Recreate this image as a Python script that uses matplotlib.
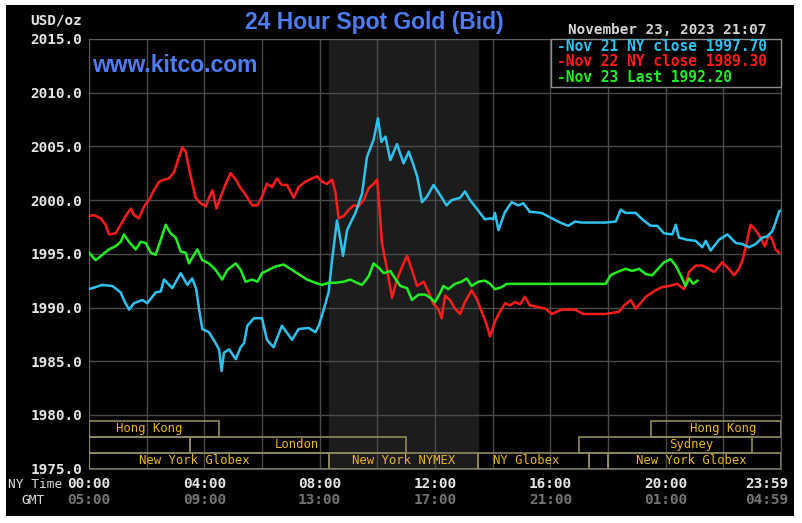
import numpy as np
import matplotlib
matplotlib.use("Agg")
import matplotlib.pyplot as plt
from matplotlib.patches import Rectangle

# ---------------------------------------------------------------------------
# Data (hours after 00:00 NY time, USD/oz)

cyan_h = [0.00, 0.46, 0.81, 1.10, 1.21, 1.39, 1.56, 1.85, 2.02, 2.31, 2.49, 2.60, 2.89, 3.18, 3.41,
          3.58, 3.72, 3.82, 3.93, 4.16, 4.39, 4.51, 4.60, 4.68, 4.86, 5.09, 5.26, 5.38, 5.49, 5.72,
          6.00, 6.17, 6.40, 6.69, 7.04, 7.27, 7.62, 7.85, 7.97, 8.14, 8.31, 8.43, 8.60, 8.72, 8.81,
          8.95, 9.24, 9.47, 9.64, 9.87, 10.02, 10.14, 10.28, 10.45, 10.68, 10.91, 11.09, 11.26, 11.38,
          11.55, 11.72, 11.95,
          12.17, 12.40, 12.58, 12.87, 13.04, 13.21, 13.39, 13.56, 13.73, 13.91, 14.02, 14.08, 14.20,
          14.43, 14.66, 14.89, 15.06, 15.29, 15.70, 16.05, 16.34, 16.62, 16.86, 17.09,
          17.92, 18.27, 18.44, 18.61, 18.96, 19.19, 19.48, 19.71, 19.94, 20.23, 20.35, 20.46, 20.75,
          21.04, 21.27, 21.39, 21.56, 21.85, 22.14, 22.43, 22.66, 22.89, 23.12, 23.35, 23.52, 23.70,
          23.81, 23.93, 23.98]
cyan_v = [1991.7, 1992.1, 1992.0, 1991.4, 1990.7, 1989.8, 1990.4, 1990.7, 1990.4, 1991.4, 1991.5,
          1992.6, 1991.8, 1993.2, 1992.1, 1992.7, 1991.7, 1989.8, 1988.0, 1987.7, 1986.7, 1986.1,
          1984.1, 1985.8, 1986.1, 1985.2, 1986.3, 1986.7, 1988.3, 1989.0,
          1989.0, 1987.0, 1986.3, 1988.3, 1987.0, 1988.0, 1988.1, 1987.7, 1988.3, 1989.8, 1991.4,
          1994.4, 1998.1, 1996.3, 1994.8, 1997.2, 1998.8, 2000.6, 2004.0, 2005.6, 2007.6, 2005.4,
          2005.9, 2003.7, 2005.2, 2003.4, 2004.5, 2003.2, 2002.2, 1999.8, 2000.3, 2001.4,
          2000.5, 1999.5, 2000.0, 2000.2, 2000.8, 2000.0, 1999.4, 1998.8, 1998.2, 1998.3, 1998.2,
          1998.8, 1997.2, 1998.9, 1999.8, 1999.5, 1999.7, 1998.9, 1998.8, 1998.3, 1997.9, 1997.6,
          1998.0, 1997.9,
          1997.9, 1998.0, 1999.1, 1998.8, 1998.8, 1998.2, 1997.6, 1997.6, 1996.9, 1996.8, 1997.7,
          1996.5, 1996.3, 1996.2, 1995.6, 1996.2, 1995.3, 1996.3, 1996.8, 1996.0, 1995.9, 1995.6,
          1995.9, 1996.5, 1996.6, 1997.1, 1997.9, 1998.9, 1999.0]

red_h = [0.00, 0.17, 0.40, 0.58, 0.69, 0.92, 1.10, 1.27, 1.45, 1.56, 1.73, 1.91, 2.08, 2.25, 2.43,
         2.60, 2.77, 2.95, 3.12, 3.24, 3.35, 3.53, 3.70, 3.87, 4.05, 4.16, 4.28, 4.42, 4.57, 4.74,
         4.91, 5.09, 5.26, 5.43, 5.66, 5.84,
         6.00, 6.17, 6.35, 6.52, 6.69, 6.87, 7.10, 7.27, 7.50, 7.73, 7.91, 8.08, 8.25, 8.43, 8.54,
         8.66, 8.83, 9.01, 9.18, 9.35, 9.53, 9.70, 9.87, 9.99, 10.07, 10.16, 10.34, 10.51, 10.68,
         10.86, 11.03, 11.20, 11.38, 11.61, 11.78, 11.95,
         12.00, 12.12, 12.23, 12.35, 12.52, 12.69, 12.87, 13.04, 13.27, 13.45, 13.62, 13.79, 13.91,
         14.08, 14.25, 14.43, 14.60, 14.77, 14.95, 15.12, 15.29, 15.47, 15.82, 16.05, 16.39, 16.86,
         17.14,
         17.92, 18.38, 18.56, 18.79, 18.96, 19.13, 19.31, 19.48, 19.65, 19.88, 20.12, 20.40, 20.64,
         20.81, 21.04, 21.27, 21.50, 21.68, 21.96, 22.19, 22.37, 22.54, 22.68, 22.83, 22.95, 23.12,
         23.29, 23.44, 23.58, 23.70, 23.81, 23.93]
red_v = [1998.5, 1998.6, 1998.3, 1997.7, 1996.8, 1996.9, 1997.7, 1998.5, 1999.2, 1998.6, 1998.3,
         1999.4, 2000.0, 2000.9, 2001.7, 2001.9, 2002.0, 2002.6, 2004.0, 2004.9, 2004.5, 2002.2,
         2000.2, 1999.7, 1999.4, 2000.2, 2000.9, 1999.2, 2000.3, 2001.5, 2002.5, 2001.9, 2001.1,
         2000.5, 1999.5, 1999.5,
         2000.3, 2001.5, 2001.2, 2002.0, 2001.4, 2001.4, 2000.2, 2001.2, 2001.7, 2002.0, 2002.2,
         2001.7, 2001.5, 2001.9, 2000.8, 1998.3, 1998.5, 1999.1, 1999.5, 1999.4, 2000.0, 2001.1,
         2001.5, 2001.9, 1999.4, 1996.0, 1993.5, 1990.9, 1992.6, 1993.8, 1994.8, 1993.5, 1992.0,
         1992.4, 1991.4, 1990.3,
         1990.2, 1989.8, 1989.0, 1991.1, 1990.7, 1989.9, 1989.4, 1990.5, 1991.6, 1990.8, 1989.6,
         1988.4, 1987.3, 1988.7, 1989.6, 1990.4, 1990.2, 1990.5, 1990.3, 1991.0, 1990.2, 1990.1,
         1989.9, 1989.4, 1989.8, 1989.8, 1989.4,
         1989.4, 1989.6, 1990.2, 1990.7, 1989.9, 1990.4, 1991.0, 1991.3, 1991.6, 1991.9, 1992.0,
         1992.2, 1991.7, 1993.3, 1993.9, 1993.9, 1993.6, 1993.3, 1994.2, 1993.6, 1993.0, 1993.6,
         1994.5, 1996.3, 1997.7, 1997.2, 1996.5, 1995.7, 1996.8, 1996.3, 1995.4, 1995.1]

green_h = [0.00, 0.23, 0.46, 0.69, 0.92, 1.10, 1.21, 1.39, 1.62, 1.79, 1.97, 2.14, 2.31, 2.49, 2.66,
           2.83, 3.01, 3.18, 3.35, 3.47, 3.64, 3.76, 3.93, 4.16, 4.39, 4.62, 4.80, 5.09, 5.26, 5.43,
           5.66, 5.84,
           6.00, 6.23, 6.46, 6.75, 7.04, 7.27, 7.56, 7.85, 8.08, 8.31, 8.54, 8.83, 9.06, 9.29, 9.47,
           9.70, 9.87, 10.05, 10.22, 10.45, 10.62, 10.80, 11.03, 11.20, 11.43, 11.66, 11.84,
           12.00, 12.17, 12.29, 12.46, 12.69, 12.92, 13.10, 13.27, 13.50, 13.73, 13.91, 14.08, 14.31,
           14.49,
           17.92, 18.09, 18.32, 18.61, 18.84, 19.08, 19.31, 19.54, 19.77, 19.94, 20.17, 20.35, 20.52,
           20.69, 20.81, 20.95, 21.10]
green_v = [1995.1, 1994.4, 1994.9, 1995.4, 1995.7, 1996.1, 1996.8, 1996.1, 1995.4, 1996.1, 1996.0,
           1995.1, 1994.9, 1996.3, 1997.7, 1996.9, 1996.5, 1995.2, 1995.1, 1994.1, 1994.9, 1995.4,
           1994.4, 1994.1, 1993.5, 1992.6, 1993.5, 1994.1, 1993.5, 1992.4, 1992.6, 1992.4,
           1993.2, 1993.5, 1993.8, 1994.0, 1993.5, 1993.1, 1992.6, 1992.3, 1992.1, 1992.3, 1992.3,
           1992.4, 1992.6, 1992.3, 1992.1, 1992.9, 1994.1, 1993.7, 1993.2, 1993.4, 1992.7, 1992.0,
           1991.8, 1990.7, 1991.2, 1991.2, 1990.9,
           1990.5, 1991.3, 1992.0, 1991.7, 1992.2, 1992.4, 1992.7, 1992.0, 1992.4, 1992.5, 1992.2,
           1991.7, 1991.9, 1992.2,
           1992.2, 1993.0, 1993.3, 1993.6, 1993.4, 1993.6, 1993.1, 1993.0, 1993.7, 1994.2, 1994.5,
           1993.9, 1993.0, 1992.0, 1992.7, 1992.2, 1992.5]

legend_labels = ["-Nov 21 NY close 1997.70", "-Nov 22 NY close 1989.30", "-Nov 23 Last 1992.20"]

y_ticks = [1975, 1980, 1985, 1990, 1995, 2000, 2005, 2010, 2015]
x_ticks = [0, 4, 8, 12, 16, 20, 24]
ny_labels = ["00:00", "04:00", "08:00", "12:00", "16:00", "20:00", "23:59"]
gmt_labels = ["05:00", "09:00", "13:00", "17:00", "21:00", "01:00", "04:59"]

# trading sessions: row (0 = top), start, end, label, label centre
sess_row = [0, 0, 1, 1, 1, 2, 2, 2, 2, 2]
sess_start = [0, 19.5, 0, 3.5, 17, 0, 8.33, 13.5, 17.33, 18]
sess_end = [4.5, 24, 3.5, 11, 23, 8.33, 13.5, 17.33, 18, 24]
sess_label = ["Hong Kong", "Hong Kong", "", "London", "Sydney",
              "New York Globex", "New York NYMEX", "NY Globex", "", "New York Globex"]
sess_text_x = [2.1, 22.0, 0, 7.2, 20.9, 3.65, 10.9, 15.15, 0, 20.9]

nymex = (8.33, 13.5)

# ---------------------------------------------------------------------------
W, H = 802, 523
CYAN, RED, GREEN = "#2ec2ee", "#ff1c1c", "#22ee22"
BLUE = "#4f7cf0"
MONO = "DejaVu Sans Mono"

fig = plt.figure(figsize=(W / 100, H / 100), dpi=100, facecolor="white")
fig.add_artist(Rectangle((6 / W, 1 - 516 / H), 788 / W, 511 / H, transform=fig.transFigure,
                         facecolor="black", edgecolor="none", zorder=0))

ax = fig.add_axes([89 / W, 1 - 468.75 / H, 692 / W, 430 / H])
ax.set_facecolor("black")
ax.set_xlim(0, 24)
ax.set_ylim(1975, 2015)

ax.axvspan(nymex[0], nymex[1], color="#1b1c1b", zorder=0)

ax.set_xticks(np.arange(0, 25, 2))
ax.set_yticks(y_ticks)
ax.set_xticklabels([])
ax.set_yticklabels(["%.1f" % v for v in y_ticks], family=MONO, weight="bold",
                   fontsize=10.4, color="#e4e4e4")
ax.tick_params(length=0, pad=5)
ax.grid(color="#4a4a4a", linewidth=1.0)
for s in ax.spines.values():
    s.set_color("#5a5a5a")

ax.plot(red_h, red_v, color=RED, lw=1.8, zorder=3)
ax.plot(cyan_h, cyan_v, color=CYAN, lw=1.8, zorder=3)
ax.plot(green_h, green_v, color=GREEN, lw=1.8, zorder=4)

# session boxes
row_top = [1979.45, 1977.96, 1976.47]
row_h = 1.49
for r, a, b, lab, tx in zip(sess_row, sess_start, sess_end, sess_label, sess_text_x):
    ax.add_patch(Rectangle((a, row_top[r] - row_h), b - a, row_h, fill=False,
                           edgecolor="#8f8a5c", lw=1.2, zorder=5))
    if lab:
        ax.text(tx, row_top[r] - row_h / 2, lab, ha="center", va="center", family=MONO,
                fontsize=8.8, color="#e8b428", zorder=6)

# x labels, two rows
for i, (h, a, g) in enumerate(zip(x_ticks, ny_labels, gmt_labels)):
    ha, dx = ("right", 7) if i == len(x_ticks) - 1 else ("center", 0)
    ax.annotate(a, (h, 0), xycoords=("data", "axes fraction"), xytext=(dx, -15),
                textcoords="offset pixels", ha=ha, va="center", family=MONO, weight="bold",
                fontsize=10.4, color="#e4e4e4", annotation_clip=False)
    ax.annotate(g, (h, 0), xycoords=("data", "axes fraction"), xytext=(dx, -31),
                textcoords="offset pixels", ha=ha, va="center", family=MONO, weight="bold",
                fontsize=10.4, color="#747474", annotation_clip=False)
fig.text(35 / W, 1 - 484 / H, "NY Time", ha="center", va="center", family=MONO,
         fontsize=9.3, color="#d8d8d8")
fig.text(33 / W, 1 - 500 / H, "GMT", ha="center", va="center", family=MONO,
         fontsize=9.3, color="#d8d8d8")

# headings
fig.text(82 / W, 1 - 20 / H, "USD/oz", ha="right", va="center", family=MONO, weight="bold",
         fontsize=10.4, color="#e4e4e4")
fig.text(374 / W, 1 - 22 / H, "24 Hour Spot Gold (Bid)", ha="center", va="center",
         family="Liberation Sans", weight="bold", fontsize=16.5, color=BLUE)
ax.text(0.004, 0.937, "www.kitco.com", transform=ax.transAxes, ha="left", va="center",
        family="Liberation Sans", weight="bold", fontsize=16.5, color=BLUE)
fig.text(766 / W, 1 - 30 / H, "November 23, 2023 21:07", ha="right", va="center", family=MONO,
         weight="bold", fontsize=10.3, color="#d4d4d4")

# legend box
ax.add_patch(Rectangle((0.6676, 0.8878), 0.3324, 0.1122, transform=ax.transAxes,
                       facecolor="black", edgecolor="#8a8a8a", lw=1.0, zorder=7, clip_on=False))
for k, (lab, col) in enumerate(zip(legend_labels, [CYAN, RED, GREEN])):
    ax.text(0.677, 0.983 - 0.037 * k, lab, transform=ax.transAxes, ha="left", va="center",
            family=MONO, weight="bold", fontsize=10.5, color=col, zorder=8)

fig.savefig("out.png", dpi=100, facecolor="white")
